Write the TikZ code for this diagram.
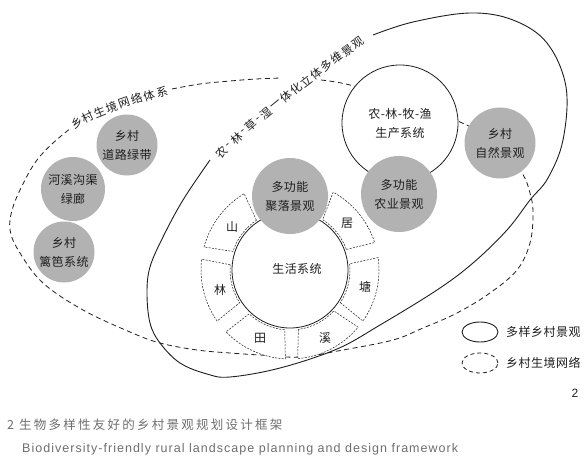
\documentclass[tikz,border=0pt]{standalone}
\usepackage{fontspec}
\setmainfont{Liberation Sans}
\newfontfamily\cjk[LetterSpace=4]{Noto Sans CJK SC}
\newfontfamily\cjkplain{Noto Sans CJK SC}
\newfontfamily\capcjk[LetterSpace=18]{Noto Sans CJK SC}
\newfontfamily\capen[LetterSpace=8.2]{Liberation Sans}
\definecolor{circgray}{RGB}{178,178,178}
\definecolor{capgray}{RGB}{110,110,110}
\definecolor{ink}{RGB}{30,30,30}
\begin{document}
\begin{tikzpicture}[x=1pt,y=-1pt,
  lab/.style={font=\cjk\fontsize{12}{19}\selectfont, text=ink, align=center, inner sep=0pt},
  arcchar/.style={font=\cjkplain\fontsize{11.5}{12}\selectfont, text=ink, inner sep=0pt},
  gcirc/.style={circle, fill=circgray, draw=none, inner sep=0pt, lab},
  wcirc/.style={circle, fill=white, draw=ink, line width=0.8pt, inner sep=0pt, lab},
  net/.style={draw=ink, line width=0.8pt, dash pattern=on 5pt off 3.5pt},
  multi/.style={draw=ink, line width=0.9pt},
  seg/.style={draw=ink, fill=white, line width=0.5pt, dash pattern=on 2pt off 1.3pt},
]
\useasboundingbox (0,0) rectangle (585,457);

% rural habitat network (dashed)
\draw[net] plot[smooth, tension=0.6] coordinates {(172,89) (200,84) (230,81) (256,79) (281,78)};
\draw[net] plot[smooth, tension=0.6] coordinates {(321,80) (350,85) (400,101) (460,122) (500,145) (522,173) (530,193) (533,213) (530,243) (517,270) (490,293) (457,313) (423,328) (393,340) (343,350) (300,357) (260,355) (230,353) (197,350) (160,343) (130,332) (83,310) (43,283) (20,253) (10,230) (13,207) (25,180) (37,160) (53,143) (71,128)};

% diverse rural landscape (solid)
\draw[multi] plot[smooth, tension=0.6] coordinates {(373,35) (413,22) (470,13) (513,20) (547,43) (566,87) (563,140) (548,178) (530,200) (507,230) (473,263) (437,290) (380,325) (337,349) (280,368) (230,377) (207,374) (180,363) (160,343) (150,323) (147,293) (150,267) (163,237) (183,200) (210,160)};

% texts along the curves
\foreach \c/\x/\y/\r [count=\i] in {乡/77/123/31, 村/88/117/26, 生/99.5/112/22, 境/111.5/107.5/20, 网/124/103/19, 络/136.5/99/17, 体/149/95.5/15, 系/162/92.5/12}
  \node[arcchar, rotate=\r] (n\i) at (\x,\y) {\c};
\foreach \c/\x/\y/\r [count=\i] in {农/222/152/42.7, -/229.2/145.4/42.3, 林/236.5/138.8/41.8, -/243.8/132.3/41.4, 草/251.1/125.9/40.9, -/258.5/119.5/40.5, 湿/266/113.2/40, 一/275.9/105/39.4, 体/285.9/96.9/38.8, 化/295.9/88.9/38.2, 立/306/81/37.7, 体/316.3/73.2/37.1, 多/326.6/65.4/36.5, 维/337/57.8/35.9, 景/347.6/50.3/35.3, 观/358/43/34.7}
  \node[arcchar, rotate=\r] (m\i) at (\x,\y) {\c};

% ring of segments around the living system
\begin{scope}[shift={(290,270)}]
\foreach \ao/\bo/\ai/\bi in {18/61/20/57, 121/165/124/162, 173/215/175/213, 224/267/227/265, 275/320/278/317, -35/8/-33/6}{
  \draw[seg] (\ai:60pt) -- (\ao:89pt) arc[start angle=\ao, end angle=\bo, radius=89pt] -- (\bi:60pt) arc[start angle=\bi, end angle=\ai, radius=60pt] -- cycle;
}
\end{scope}

\node[wcirc, minimum size=116pt] (live) at (290,270) {};
\node[lab] (livet) at (297,269) {生活系统};

\node[wcirc, minimum size=116pt] (prod) at (400,123) {农-林-牧-渔\\生产系统};

\node[gcirc, minimum size=76pt] (settle) at (290,196) {多功能\\聚落景观};
\node[gcirc, minimum size=76pt] (agri) at (399,194) {多功能\\农业景观};
\node[gcirc, minimum size=71pt] (nat) at (500,143) {乡村\\自然景观};
\node[gcirc, minimum size=61pt] (road) at (127,145) {乡村\\道路绿带};
\node[gcirc, minimum size=64pt] (river) at (73,189) {河溪沟渠\\绿廊};
\node[gcirc, minimum size=61pt] (fence) at (64,252) {乡村\\篱笆系统};

\node[lab] (shan) at (232,227) {山};
\node[lab] (ju) at (347,223) {居};
\node[lab] (tang) at (365,287) {塘};
\node[lab] (lin) at (220,290) {林};
\node[lab] (tian) at (260,338) {田};
\node[lab] (xi) at (325,338) {溪};

% legend
\draw[multi] (480,332) ellipse [x radius=18pt, y radius=10pt];
\draw[net, dash pattern=on 4pt off 3pt] (480,363) ellipse [x radius=18pt, y radius=10pt];
\node[lab, anchor=west] (leg1) at (506,332) {多样乡村景观};
\node[lab, anchor=west] (leg2) at (506,363) {乡村生境网络};

\node[font=\fontsize{12}{14}\selectfont, text=ink] (fignum) at (575,393) {2};

% caption
\node[anchor=west, inner sep=0pt, text=capgray, font=\capcjk\fontsize{12.5}{14}\selectfont] (cap1) at (7,425) {2 生物多样性友好的乡村景观规划设计框架};
\node[anchor=west, inner sep=0pt, text=capgray, font=\capen\fontsize{12.5}{14}\selectfont] (cap2) at (22,449) {Biodiversity-friendly rural landscape planning and design framework};
\end{tikzpicture}
\end{document}
